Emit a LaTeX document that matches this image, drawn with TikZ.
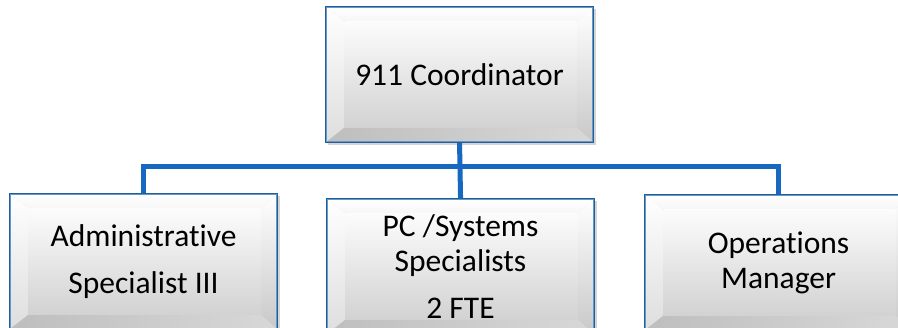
\documentclass[tikz,border=0pt]{standalone}
\usepackage{fontspec}
\setmainfont{Carlito}[RawFeature={-liga;-dlig}]
\usetikzlibrary{shadows,calc}
\definecolor{connblue}{RGB}{22,104,192}
\definecolor{edgedark}{RGB}{44,92,140}
\definecolor{edgelight}{RGB}{90,155,213}
\definecolor{facetop}{RGB}{252,252,252}
\definecolor{facebot}{RGB}{210,210,210}
\definecolor{bevtop}{RGB}{255,255,255}
\definecolor{bevleft}{RGB}{246,246,246}
\definecolor{bevright}{RGB}{200,200,200}
\definecolor{bevbot}{RGB}{190,190,190}
\tikzset{
  bevelbox/.style={
    draw=edgedark, line width=1.1pt,
    minimum width=268pt, minimum height=136pt, inner sep=0pt,
    align=center, font=\fontsize{31.5}{35}\selectfont,
    drop shadow={shadow xshift=2pt, shadow yshift=-2.5pt, opacity=0.28, fill=black!60},
    path picture={
      \coordinate (pnw) at (path picture bounding box.north west);
      \coordinate (pne) at (path picture bounding box.north east);
      \coordinate (psw) at (path picture bounding box.south west);
      \coordinate (pse) at (path picture bounding box.south east);
      \coordinate (inw) at ([shift={(19pt,-15pt)}]pnw);
      \coordinate (ine) at ([shift={(-17pt,-15pt)}]pne);
      \coordinate (isw) at ([shift={(19pt,15pt)}]psw);
      \coordinate (ise) at ([shift={(-17pt,15pt)}]pse);
      \shade[top color=bevtop, bottom color=bevleft] (pnw) -- (pne) -- (ine) -- (inw) -- cycle;
      \shade[top color=white, bottom color=bevleft!90!black] (pnw) -- (inw) -- (isw) -- (psw) -- cycle;
      \shade[top color=white, bottom color=bevright] (pne) -- (pse) -- (ise) -- (ine) -- cycle;
      \shade[left color=bevbot, right color=bevbot!60!white] (psw) -- (isw) -- (ise) -- (pse) -- cycle;
      \shade[top color=facetop, bottom color=facebot] (inw) rectangle (ise);
      \draw[edgelight, line width=3pt] (pnw) rectangle (pse);
    }
  },
  conn/.style={draw=connblue, line width=5pt}
}
\begin{document}
\begin{tikzpicture}[x=1pt,y=-1pt]
\useasboundingbox (0,0) rectangle (898,328);
\node[bevelbox, anchor=north west] (top) at (325,6) {911 Coordinator};
\node[bevelbox, anchor=north west] (adm) at (9,193) {Administrative\\[12pt]Specialist III};
\node[bevelbox, anchor=north west] (pcs) at (326,198) {PC /Systems\\Specialists\\[12pt]2 FTE};
\node[bevelbox, anchor=north west] (ops) at (644,194) {Operations\\Manager};
\coordinate (bus) at (460,167);
\draw[conn] (top.south) -- (pcs.north);
\draw[conn] (adm.north) |- (bus) -| (ops.north);
\end{tikzpicture}
\end{document}
